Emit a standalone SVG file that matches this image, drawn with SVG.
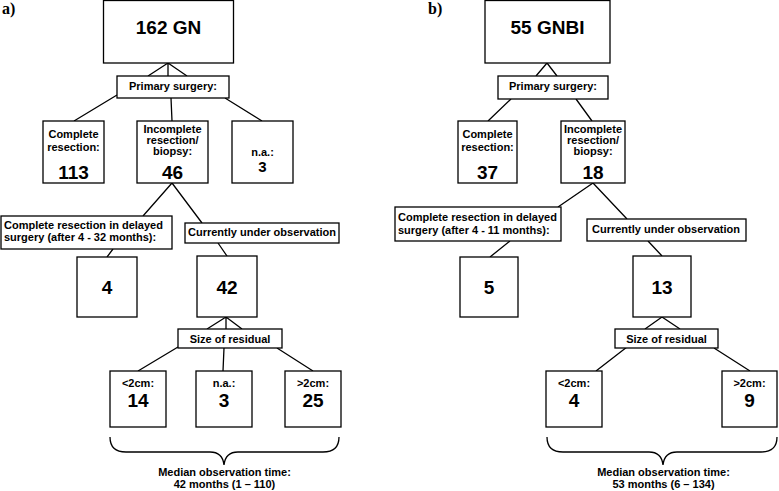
<svg xmlns="http://www.w3.org/2000/svg" width="779" height="491" viewBox="0 0 779 491">
<style>
.box{fill:#fff;stroke:#000;stroke-width:1.3}
.ln{fill:none;stroke:#000;stroke-width:1.3}
text{font-family:"Liberation Sans",Arial,sans-serif;font-weight:bold;fill:#000}
.t{font-size:11px;text-anchor:middle}
.ts{font-size:11px;text-anchor:start}
.big{font-size:19px;text-anchor:middle}
.mid{font-size:15px;text-anchor:middle}
.lbl{font-family:"Liberation Serif","Times New Roman",serif;font-size:16px}
</style>
<rect width="779" height="491" fill="#fff"/>
<text class="lbl" x="2" y="14">a)</text>
<text class="lbl" x="428" y="14">b)</text>
<g id="connectors">
<path class="ln" d="M168,63L148,76M168,63L168,76M168,63L187,76M117,95L74,121M171,98L172,121M225,98L262,121M172,183L143,216M172,183L202,223M113,249L107,257M218,243L227,256M226,317L207,329M226,317L226,329M226,317L242,329M178,347L138,371M224,348L223,371M277,348L313,371"/>
<path class="ln" d="M547,63L536,76M547,63L557,76M511,99L488,121M576,99L592,121M593,183L558,207M593,183L627,219M510,241L490,257M648,241L662,256M662,317L645,329M662,317L680,329M627,347L596,371M714,348L750,371"/>
<path class="ln" d="M110,437C110,448 116,452 126,452L210,452C218,452 223,456 224,465C225,456 230,452 238,452L323,452C333,452 339,448 339,437"/>
<path class="ln" d="M547,437C547,448 553,452 563,452L649,452C657,452 662,456 663,465C664,456 669,452 677,452L761,452C771,452 777,448 777,437"/>
</g>
<g id="a_root"><rect class="box" x="103.5" y="0.5" width="130" height="62.5"/><text class="big" x="168.5" y="34">162 GN</text></g>
<g id="a_primary"><rect class="box" x="117" y="76" width="112" height="22"/><text class="t" x="173" y="90">Primary surgery:</text></g>
<g id="a_complete"><rect class="box" x="43" y="121" width="61" height="62"/><text class="t" x="73.5" y="138">Complete</text><text class="t" x="73.5" y="150.5">resection:</text><text class="big" x="73.5" y="179">113</text></g>
<g id="a_incomplete"><rect class="box" x="137" y="121" width="71" height="62"/><text class="t" x="172.5" y="133">Incomplete</text><text class="t" x="172.5" y="144">resection/</text><text class="t" x="172.5" y="155">biopsy:</text><text class="big" x="172.5" y="179">46</text></g>
<g id="a_na"><rect class="box" x="232" y="121" width="61" height="62"/><text class="t" x="262.5" y="156">n.a.:</text><text class="mid" x="262.5" y="172">3</text></g>
<g id="a_delayed"><rect class="box" x="1" y="216" width="171" height="33"/><text class="ts" x="4" y="229">Complete resection in delayed</text><text class="ts" x="4" y="241">surgery (after 4 - 32 months):</text></g>
<g id="a_four"><rect class="box" x="77" y="257" width="60" height="60"/><text class="big" x="107" y="294">4</text></g>
<g id="a_observation"><rect class="box" x="185" y="223" width="154" height="20"/><text class="t" x="262" y="236">Currently under observation</text></g>
<g id="a_42"><rect class="box" x="197" y="256" width="60" height="61"/><text class="big" x="227" y="294">42</text></g>
<g id="a_size"><rect class="box" x="178" y="329" width="104" height="19"/><text class="t" x="230" y="342.5">Size of residual</text></g>
<g id="a_lt2"><rect class="box" x="110" y="371" width="56" height="56"/><text class="t" x="138" y="387">&lt;2cm:</text><text class="big" x="138" y="407">14</text></g>
<g id="a_na2"><rect class="box" x="196" y="371" width="56" height="56"/><text class="t" x="224" y="387">n.a.:</text><text class="big" x="224" y="407">3</text></g>
<g id="a_gt2"><rect class="box" x="285" y="371" width="56" height="56"/><text class="t" x="313" y="387">&gt;2cm:</text><text class="big" x="313" y="407">25</text></g>
<g id="a_median"><text class="t" x="224.5" y="476">Median observation time:</text><text class="t" x="224.5" y="488">42 months (1 – 110)</text></g>
<g id="b_root"><rect class="box" x="485" y="0.5" width="125" height="62.5"/><text class="big" x="547.5" y="34">55 GNBI</text></g>
<g id="b_primary"><rect class="box" x="498" y="76" width="110" height="23"/><text class="t" x="553" y="90">Primary surgery:</text></g>
<g id="b_complete"><rect class="box" x="458" y="121" width="59" height="62"/><text class="t" x="487.5" y="138">Complete</text><text class="t" x="487.5" y="150.5">resection:</text><text class="big" x="487.5" y="179">37</text></g>
<g id="b_incomplete"><rect class="box" x="561" y="121" width="64" height="62"/><text class="t" x="593" y="133">Incomplete</text><text class="t" x="593" y="144">resection/</text><text class="t" x="593" y="155">biopsy:</text><text class="big" x="593" y="179">18</text></g>
<g id="b_delayed"><rect class="box" x="395" y="207" width="166" height="34"/><text class="ts" x="398" y="221">Complete resection in delayed</text><text class="ts" x="398" y="234">surgery (after 4 - 11 months):</text></g>
<g id="b_five"><rect class="box" x="460" y="257" width="58" height="60"/><text class="big" x="489" y="294">5</text></g>
<g id="b_observation"><rect class="box" x="587" y="219" width="159" height="22"/><text class="t" x="666" y="232.5">Currently under observation</text></g>
<g id="b_13"><rect class="box" x="633" y="256" width="58" height="61"/><text class="big" x="662" y="294">13</text></g>
<g id="b_size"><rect class="box" x="615" y="329" width="103" height="19"/><text class="t" x="666.5" y="342.5">Size of residual</text></g>
<g id="b_lt2"><rect class="box" x="546" y="371" width="56" height="56"/><text class="t" x="574" y="387">&lt;2cm:</text><text class="big" x="574" y="407">4</text></g>
<g id="b_gt2"><rect class="box" x="722" y="371" width="55" height="56"/><text class="t" x="749.5" y="387">&gt;2cm:</text><text class="big" x="749.5" y="407">9</text></g>
<g id="b_median"><text class="t" x="663.5" y="476">Median observation time:</text><text class="t" x="663.5" y="488">53 months (6 – 134)</text></g>
</svg>
